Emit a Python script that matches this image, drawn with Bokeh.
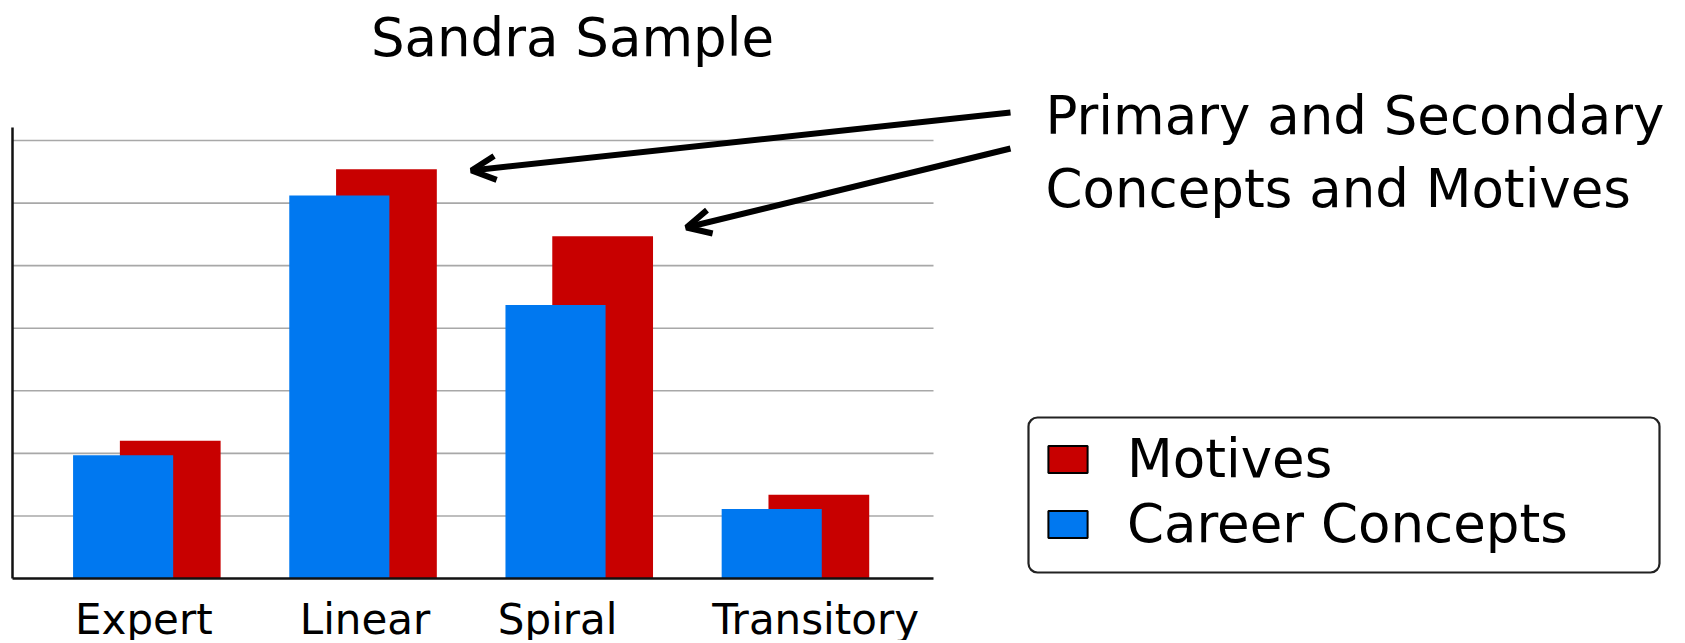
from bokeh.plotting import figure
from bokeh.models import (Range1d, FixedTicker, Label, Arrow, OpenHead, Legend,
                          LegendItem, BoxAnnotation, ColumnDataSource)
from bokeh.transform import dodge
from bokeh.embed import file_html
from bokeh.resources import INLINE

# ---------------- data ----------------
categories = ["Expert", "Linear", "Spiral", "Transitory"]
career_concepts = [1.97, 6.12, 4.37, 1.11]
motives = [2.20, 6.54, 5.47, 1.34]
grid_levels = [1, 2, 3, 4, 5, 6, 7]
title_text = "Sandra Sample"
note_lines = ["Primary and Secondary", "Concepts and Motives"]
series_names = ["Motives", "Career Concepts"]

# ---------------- styling / layout ----------------
RED = "#c80000"
BLUE = "#0078f0"
FONT = "DejaVu Sans"
label_shift = [-0.014, 0.009, -0.100, 0.093]   # tick-label nudges (layout only)

W, H = 1680, 640
PAGE = 0
X0, XS = 146.4, 216.2     # window px of category 0 centre, px per category
Y0, YS = 578.0, 62.57     # window px of value 0, px per unit


def dx(px):
    return (px - X0) / XS


def dy(py):
    return (Y0 - py) / YS


p = figure(width=W, height=H, output_backend="svg", toolbar_location=None,
           x_range=Range1d(dx(PAGE), dx(PAGE + W)),
           y_range=Range1d(dy(PAGE + H), dy(PAGE)),
           min_border=0, title=None)
p.outline_line_color = None
p.grid.visible = False
p.background_fill_color = "white"

# grid lines (only across the chart area)
p.segment(x0=dx(12), x1=dx(933), y0=grid_levels, y1=grid_levels,
          line_color="#a8a8a8", line_width=1.6)

idx = list(range(len(categories)))
src = ColumnDataSource(dict(x=idx, cat=categories, cc=career_concepts, mo=motives))
p.vbar(x=dodge("x", 0.108, range=p.x_range), top="mo", width=0.466, source=src,
       fill_color=RED, line_color=None)
p.vbar(x=dodge("x", -0.110, range=p.x_range), top="cc", width=0.463, source=src,
       fill_color=BLUE, line_color=None)

# axes
xa = p.xaxis[0]
xa.fixed_location = 0
xa.bounds = (dx(12), dx(933))
ticks = [i + s for i, s in zip(idx, label_shift)]
xa.ticker = FixedTicker(ticks=ticks)
xa.major_label_overrides = {t: c for t, c in zip(ticks, categories)}
xa.major_tick_out = 0
xa.major_tick_in = 0
xa.minor_tick_out = 0
xa.minor_tick_in = 0
xa.axis_line_width = 2.5
xa.axis_line_color = "#111111"
xa.major_label_text_font = FONT
xa.major_label_text_font_size = "42px"
xa.major_label_text_color = "black"
xa.major_label_standoff = 16

ya = p.yaxis[0]
ya.fixed_location = dx(12)
ya.bounds = (0, dy(127))
ya.ticker = FixedTicker(ticks=[])
ya.major_tick_out = 0
ya.major_tick_in = 0
ya.minor_tick_out = 0
ya.minor_tick_in = 0
ya.axis_line_width = 2.5
ya.axis_line_color = "#111111"
ya.major_label_text_font_size = "0px"

# title
p.add_layout(Label(x=dx(572), y=dy(36.5), text=title_text, text_align="center",
                   text_baseline="alphabetic", text_font=FONT,
                   text_font_size="53px", text_color="black"))

# annotation note
for line, base in zip(note_lines, [114.5, 187.5]):
    p.add_layout(Label(x=dx(1045), y=dy(base), text=line, text_align="left",
                       text_baseline="alphabetic", text_font=FONT,
                       text_font_size="53px", text_color="black"))

for (xs, ys, xe, ye) in [(1010, 112, 471, 170), (1010, 148, 686, 227)]:
    p.add_layout(Arrow(end=OpenHead(size=24, line_width=6, line_color="black"),
                       x_start=dx(xs), y_start=dy(ys), x_end=dx(xe), y_end=dy(ye),
                       line_width=6, line_color="black"))

# legend
p.add_layout(BoxAnnotation(left=dx(1028), right=dx(1659), top=dy(417), bottom=dy(572),
                           fill_color="white", fill_alpha=1.0,
                           line_color="#222222", line_alpha=1.0, line_width=2.2,
                           border_radius=9))

leg_mo = p.vbar(x=idx[:1], top=motives[:1], width=0.4, fill_color=RED,
                line_color="black", line_width=2, visible=False)
leg_cc = p.vbar(x=idx[:1], top=career_concepts[:1], width=0.4, fill_color=BLUE,
                line_color="black", line_width=2, visible=False)
legend = Legend(items=[LegendItem(label=series_names[0], renderers=[leg_mo]),
                       LegendItem(label=series_names[1], renderers=[leg_cc])],
                location=(1043, 86), orientation="vertical",
                glyph_width=49, glyph_height=34, label_standoff=35, spacing=4,
                padding=0, margin=0, border_line_color=None,
                background_fill_alpha=0.0, label_text_font=FONT,
                label_text_font_size="53px", label_text_color="black",
                inactive_fill_alpha=0.0, click_policy="none")
p.add_layout(legend)

open("out.html", "w").write(file_html(p, INLINE))
